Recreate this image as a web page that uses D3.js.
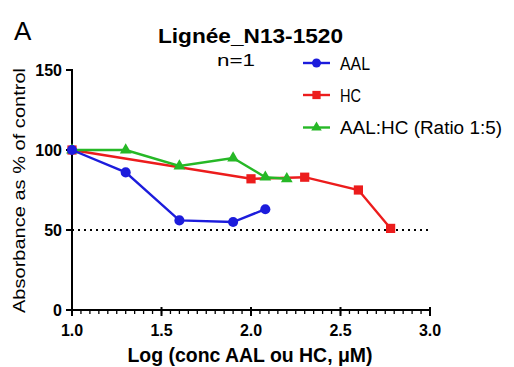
<!DOCTYPE html>
<html><head><meta charset="utf-8">
<script src="https://cdn.jsdelivr.net/npm/d3@7"></script>
<style>body{margin:0;background:#fff}svg{display:block}text{font-family:Arial,"Liberation Sans",sans-serif}</style>
</head><body>
<script>
const aalX = [1.0, 1.3, 1.6, 1.9, 2.08];
const aalY = [100, 86, 56, 55, 63];
const hcX = [1.0, 2.0, 2.3, 2.6, 2.78];
const hcY = [100, 82, 83, 75, 51];
const mixX = [1.0, 1.3, 1.6, 1.9, 2.08, 2.2];
const mixY = [100, 100, 90, 95, 83, 82];
const seriesNames = ["AAL", "HC", "AAL:HC (Ratio 1:5)"];
const xTicks = [1.0, 1.5, 2.0, 2.5, 3.0];
const yTicks = [0, 50, 100, 150];
const refLine = 50;

const W = 514, H = 367;
const svg = d3.select("body").append("svg").attr("width", W).attr("height", H);
const x = d3.scaleLinear().domain([1, 3]).range([72, 430]);
const y = d3.scaleLinear().domain([0, 150]).range([310, 70]);

const colors = ["#1c1cdc", "#ec1c1c", "#26b826"];

// axes
const xAxis = svg.append("g").attr("transform", "translate(0,310)");
xAxis.append("line").attr("x1", 72).attr("x2", 431).attr("stroke", "#000").attr("stroke-width", 2);
const minor = d3.range(1, 3.0001, 0.05);
xAxis.selectAll(".mn").data(minor).join("line").attr("x1", d => x(d)).attr("x2", d => x(d))
  .attr("y1", 0).attr("y2", 4).attr("stroke", "#000").attr("stroke-width", 1.3);
xAxis.selectAll(".mj").data(xTicks).join("line").attr("x1", d => x(d)).attr("x2", d => x(d))
  .attr("y1", -3).attr("y2", 6).attr("stroke", "#000").attr("stroke-width", 2);
xAxis.selectAll(".lb").data(xTicks).join("text").attr("x", d => x(d)).attr("y", 26)
  .attr("text-anchor", "middle").attr("font-size", 16).attr("font-weight", "bold").text(d => d.toFixed(1));

const yAxis = svg.append("g");
yAxis.append("line").attr("x1", 72).attr("x2", 72).attr("y1", 69).attr("y2", 311).attr("stroke", "#000").attr("stroke-width", 2);
yAxis.selectAll(".mj").data(yTicks).join("line").attr("x1", 66).attr("x2", 72)
  .attr("y1", d => y(d)).attr("y2", d => y(d)).attr("stroke", "#000").attr("stroke-width", 2);
yAxis.selectAll(".lb").data(yTicks).join("text").attr("x", 62).attr("y", d => y(d) + 6)
  .attr("text-anchor", "end").attr("font-size", 16).attr("font-weight", "bold").text(d => d);

// reference line
svg.append("line").attr("x1", x(1)).attr("x2", x(3)).attr("y1", y(refLine)).attr("y2", y(refLine))
  .attr("stroke", "#000").attr("stroke-width", 2).attr("stroke-dasharray", "2,4");

const line = d3.line().x(d => x(d[0])).y(d => y(d[1]));
const symbols = [d3.symbolCircle, d3.symbolSquare, d3.symbolTriangle];
const sizes = [80, 85, 60];

function drawSeries(i, pts) {
  svg.append("path").datum(pts).attr("d", line).attr("fill", "none")
    .attr("stroke", colors[i]).attr("stroke-width", 2.4);
  svg.selectAll(null).data(pts).join("path")
    .attr("transform", d => `translate(${x(d[0])},${y(d[1])})`)
    .attr("d", d3.symbol().type(symbols[i]).size(sizes[i])).attr("fill", colors[i]);
}
drawSeries(1, d3.zip(hcX, hcY));
drawSeries(2, d3.zip(mixX, mixY));
drawSeries(0, d3.zip(aalX, aalY));

function fitText(sel, len) {
  return sel.attr("textLength", len).attr("lengthAdjust", "spacingAndGlyphs");
}

// titles
svg.append("text").attr("x", 14).attr("y", 40).attr("font-size", 26).text("A");
fitText(svg.append("text").attr("x", 250.5).attr("y", 43).attr("text-anchor", "middle").attr("font-size", 21).attr("font-weight", "bold").text("Lignée_N13-1520"), 185);
fitText(svg.append("text").attr("x", 236).attr("y", 66).attr("text-anchor", "middle").attr("font-size", 16).text("n=1"), 38);

// axis titles
fitText(svg.append("text").attr("transform", "translate(25,190.5) rotate(-90)").attr("text-anchor", "middle")
  .attr("font-size", 16).text("Absorbance as % of control"), 245);
fitText(svg.append("text").attr("x", 250).attr("y", 362).attr("text-anchor", "middle")
  .attr("font-size", 20).attr("font-weight", "bold").text("Log (conc AAL ou HC, μM)"), 245);

// legend
const legY = [63, 95, 127.5];
const legW = [30, 21, 162];
seriesNames.forEach((n, i) => {
  const g = svg.append("g").attr("transform", `translate(0,${legY[i]})`);
  g.append("line").attr("x1", 303).attr("x2", 330).attr("stroke", colors[i]).attr("stroke-width", 2.4);
  g.append("path").attr("transform", "translate(316.5,0)").attr("d", d3.symbol().type(symbols[i]).size(sizes[i] * 0.8)).attr("fill", colors[i]);
  fitText(g.append("text").attr("x", 340).attr("y", 6.5).attr("font-size", 18).text(n), legW[i]);
});
</script>
</body></html>
